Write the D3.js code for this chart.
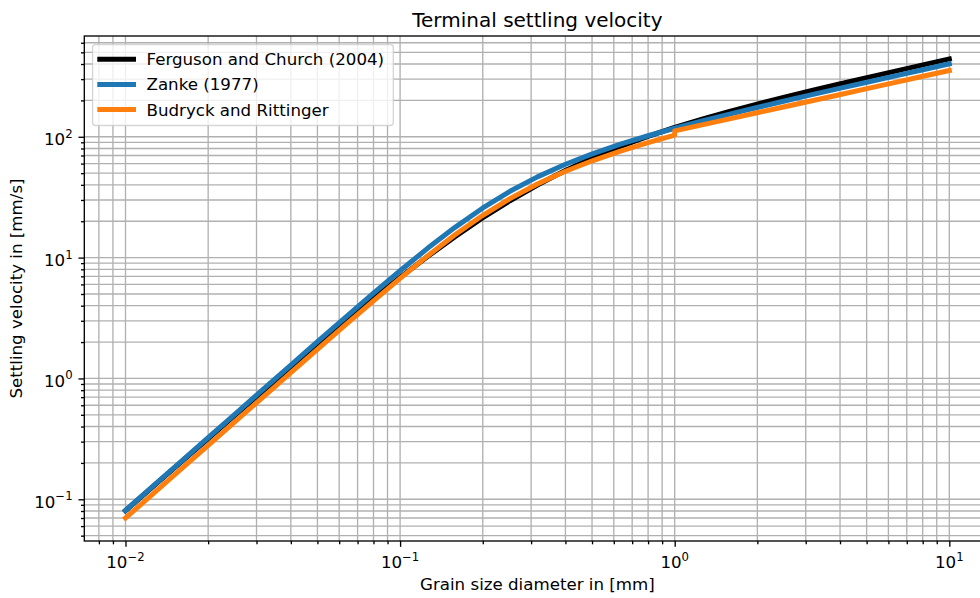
<!DOCTYPE html>
<html><head><meta charset="utf-8">
<script src="https://cdn.jsdelivr.net/npm/d3@7/dist/d3.min.js"></script>
<style>
body{margin:0;background:#fff}
svg{display:block}
text{font-family:"DejaVu Sans",sans-serif;fill:#000}
</style>
</head><body>
<svg id="chart" width="980" height="598"></svg>
<script>
// ---- data (grain size in mm, settling velocity in mm/s) ----
const grainSize = [0.01, 0.0125893, 0.0158489, 0.0199526, 0.0251189, 0.0316228, 0.0398107, 0.0501187, 0.0630957, 0.0794328,
  0.1, 0.125893, 0.158489, 0.199526, 0.251189, 0.316228, 0.398107, 0.501187, 0.630957, 0.794328,
  1, 1.25893, 1.58489, 1.99526, 2.51189, 3.16228, 3.98107, 5.01187, 6.30957, 7.94328, 10];
const fergusonChurch = [0.08047, 0.1272, 0.2010, 0.3170, 0.4992, 0.7839, 1.226, 1.909, 2.952, 4.522,
  6.843, 10.20, 14.90, 21.27, 29.56, 39.92, 52.33, 66.65, 82.70, 100.3,
  119.4, 140.0, 162.3, 186.4, 212.7, 241.6, 273.5, 308.8, 348.0, 391.7, 440.5];
const zanke = [0.08093, 0.1283, 0.2033, 0.3221, 0.5103, 0.8083, 1.279, 2.023, 3.190, 5.007,
  7.790, 11.93, 17.81, 25.65, 35.36, 46.60, 58.99, 72.30, 86.45, 101.5,
  117.6, 135.0, 154.0, 174.8, 197.7, 223.1, 251.3, 282.8, 318.0, 357.3, 401.3];
const budryckRittingerSize = [0.01, 0.0125893, 0.0158489, 0.0199526, 0.0251189, 0.0316228, 0.0398107, 0.0501187, 0.0630957, 0.0794328,
  0.1, 0.125893, 0.158489, 0.199526, 0.251189, 0.316228, 0.398107, 0.501187, 0.630957, 0.794328,
  1, 1, 1.25893, 1.58489, 1.99526, 2.51189, 3.16228, 3.98107, 5.01187, 6.30957, 7.94328, 10];
const budryckRittinger = [0.06995, 0.1109, 0.1757, 0.2784, 0.4411, 0.6986, 1.106, 1.748, 2.758, 4.330,
  6.740, 10.33, 15.45, 22.29, 30.79, 40.66, 51.56, 63.28, 75.73, 88.98,
  103.2, 111.8, 125.4, 140.7, 157.9, 177.1, 198.7, 223.0, 250.2, 280.7, 315.0, 353.4];

const seriesNames = ["Ferguson and Church (2004)", "Zanke (1977)", "Budryck and Rittinger"];
const seriesColors = ["#000000", "#1f77b4", "#ff7f0e"];
const xTickExponents = [-2, -1, 0, 1];
const yTickExponents = [-1, 0, 1, 2];
const titleText = "Terminal settling velocity";
const xLabelText = "Grain size diameter in [mm]";
const yLabelText = "Settling velocity in [mm/s]";

// ---- layout ----
const L = 84.3, R = 990.5, T = 36, B = 541;
const svg = d3.select("#chart");

const x = d3.scaleLog().domain([Math.pow(10, -2.15), Math.pow(10, 1.15)]).range([L, R]);
const y = d3.scaleLog().domain([Math.pow(10, -1.3452), Math.pow(10, 2.834)]).range([B, T]);

function minorTicks(scale, exps) {
  const [d0, d1] = scale.domain();
  const out = [];
  for (let e = Math.floor(Math.log10(d0)) - 1; e <= Math.ceil(Math.log10(d1)); e++) {
    for (let m = 2; m <= 9; m++) {
      const v = m * Math.pow(10, e);
      if (v >= d0 && v <= d1) out.push(v);
    }
  }
  return out;
}
const xMajor = xTickExponents.map(e => Math.pow(10, e));
const yMajor = yTickExponents.map(e => Math.pow(10, e));
const xMinor = minorTicks(x);
const yMinor = minorTicks(y);

// grid
const grid = svg.append("g").attr("stroke", "#b0b0b0").attr("stroke-width", 1.33);
xMinor.concat(xMajor).forEach(v => {
  grid.append("line").attr("x1", x(v)).attr("x2", x(v)).attr("y1", T).attr("y2", B);
});
yMinor.concat(yMajor).forEach(v => {
  grid.append("line").attr("y1", y(v)).attr("y2", y(v)).attr("x1", L).attr("x2", R);
});

// lines
svg.append("defs").append("clipPath").attr("id", "clip")
  .append("rect").attr("x", L).attr("y", T).attr("width", R - L).attr("height", B - T);
const plot = svg.append("g").attr("clip-path", "url(#clip)");
const lineGen = d3.line().x(d => x(d[0])).y(d => y(d[1]));
const seriesData = [
  d3.zip(grainSize, fergusonChurch),
  d3.zip(grainSize, zanke),
  d3.zip(budryckRittingerSize, budryckRittinger)
];
seriesData.forEach((data, i) => {
  plot.append("path").attr("d", lineGen(data))
    .attr("fill", "none").attr("stroke", seriesColors[i])
    .attr("stroke-width", 5).attr("stroke-linejoin", "round").attr("stroke-linecap", "square");
});

// axes ticks
const axX = svg.append("g").attr("transform", `translate(0,${B})`);
axX.call(d3.axisBottom(x).tickValues(xMajor).tickSize(5.83).tickFormat(""));
const axXm = svg.append("g").attr("transform", `translate(0,${B})`);
axXm.call(d3.axisBottom(x).tickValues(xMinor).tickSize(3.33).tickFormat(""));
const axY = svg.append("g").attr("transform", `translate(${L},0)`);
axY.call(d3.axisLeft(y).tickValues(yMajor).tickSize(5.83).tickFormat(""));
const axYm = svg.append("g").attr("transform", `translate(${L},0)`);
axYm.call(d3.axisLeft(y).tickValues(yMinor).tickSize(3.33).tickFormat(""));
svg.selectAll(".domain").remove();
svg.selectAll(".tick line").attr("stroke", "#000").attr("stroke-width", 1.33);

// spines
svg.append("rect").attr("x", L).attr("y", T).attr("width", R - L).attr("height", B - T)
  .attr("fill", "none").attr("stroke", "#000").attr("stroke-width", 1.33);

// tick labels
function expLabel(g, e) {
  g.append("tspan").text("10");
  g.append("tspan").attr("dy", -7.5).attr("font-size", 11.7).text(e < 0 ? "\u2212" + (-e) : String(e));
}
xTickExponents.forEach((e, i) => {
  const t = svg.append("text").attr("x", x(xMajor[i])).attr("y", 568)
    .attr("text-anchor", "middle").attr("font-size", 16.67);
  expLabel(t, e);
});
yTickExponents.forEach((e, i) => {
  const t = svg.append("text").attr("x", 72.6).attr("y", y(yMajor[i]) + 8.5)
    .attr("text-anchor", "end").attr("font-size", 16.67);
  expLabel(t, e);
});

// labels and title
svg.append("text").attr("x", (L + R) / 2).attr("y", 27).attr("text-anchor", "middle")
  .attr("font-size", 20).text(titleText);
svg.append("text").attr("x", (L + R) / 2).attr("y", 590).attr("text-anchor", "middle")
  .attr("font-size", 16.67).text(xLabelText);
svg.append("text").attr("transform", `translate(22,${(T + B) / 2}) rotate(-90)`)
  .attr("text-anchor", "middle").attr("font-size", 16.67).text(yLabelText);

// legend
const lg = svg.append("g");
lg.append("rect").attr("x", 92.6).attr("y", 44.5).attr("width", 300.7).attr("height", 81)
  .attr("rx", 3).attr("fill", "#fff").attr("fill-opacity", 0.8)
  .attr("stroke", "#cccccc").attr("stroke-opacity", 0.8).attr("stroke-width", 1.33);
seriesNames.forEach((name, i) => {
  const cy = 59.2 + i * 25.2;
  lg.append("line").attr("x1", 99.8).attr("x2", 133.5).attr("y1", cy).attr("y2", cy)
    .attr("stroke", seriesColors[i]).attr("stroke-width", 5).attr("stroke-linecap", "square");
  lg.append("text").attr("x", 146.5).attr("y", cy + 6).attr("font-size", 16.67).text(name);
});
</script>
</body></html>
